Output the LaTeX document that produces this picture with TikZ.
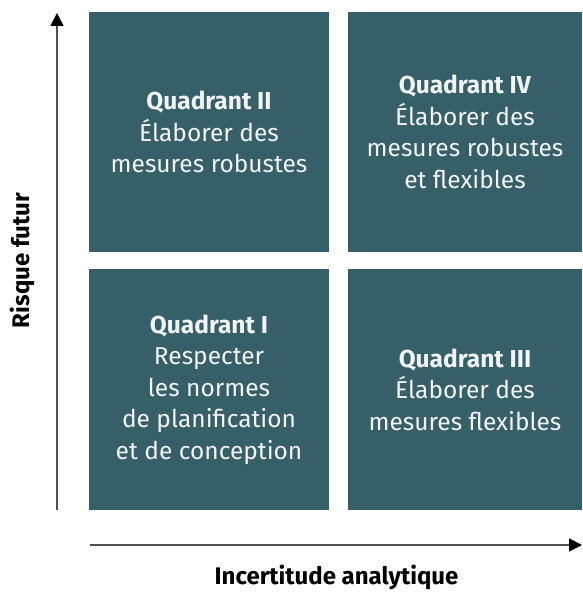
\documentclass[tikz,border=0pt]{standalone}
\usepackage{fontspec}
\setmainfont{Fira Sans}
\usetikzlibrary{arrows.meta}
\definecolor{quad}{RGB}{55,95,104}
\definecolor{axisgray}{RGB}{80,80,80}
\definecolor{qtext}{RGB}{240,244,245}
\begin{document}
\begin{tikzpicture}[x=1pt,y=-1pt,
  quadbox/.style={fill=quad, draw=none, inner sep=0pt, text=qtext, align=center,
    font=\fontsize{24.5}{31.5}\selectfont},
  leftcol/.style={minimum width=240pt},
  rightcol/.style={minimum width=234pt},
  toprow/.style={minimum height=240pt},
  botrow/.style={minimum height=241pt},
  axisline/.style={draw=axisgray, line width=1.6pt,
    -{Triangle[length=13pt,width=13pt,color=black]}},
  axislabel/.style={font=\fontsize{24}{28}\selectfont\bfseries, text=black, inner sep=0pt}]
\useasboundingbox (0,0) rectangle (582,593);
\node[quadbox, leftcol, toprow] (q2) at (209,132)
  {\textbf{Quadrant II}\\Élaborer des\\mesures robustes};
\node[quadbox, rightcol, toprow] (q4) at (465,132)
  {\textbf{Quadrant IV}\\Élaborer des\\mesures robustes\\et flexibles};
\node[quadbox, leftcol, botrow] (q1) at (209,389.5)
  {\textbf{Quadrant I}\\Respecter\\les normes\\de planification\\et de conception};
\node[quadbox, rightcol, botrow] (q3) at (465,389.5)
  {\textbf{Quadrant III}\\Élaborer des\\mesures flexibles};
\coordinate (ybot) at (57,510);
\coordinate (ytop) at (57,13);
\coordinate (xleft) at (90,545);
\coordinate (xright) at (582,545);
\draw[axisline] (ybot) -- (ytop);
\draw[axisline] (xleft) -- (xright);
\node[axislabel, rotate=90] (ylab) at (22,260.5) {Risque futur};
\node[axislabel] (xlab) at (336.5,577) {Incertitude analytique};
\end{tikzpicture}
\end{document}
